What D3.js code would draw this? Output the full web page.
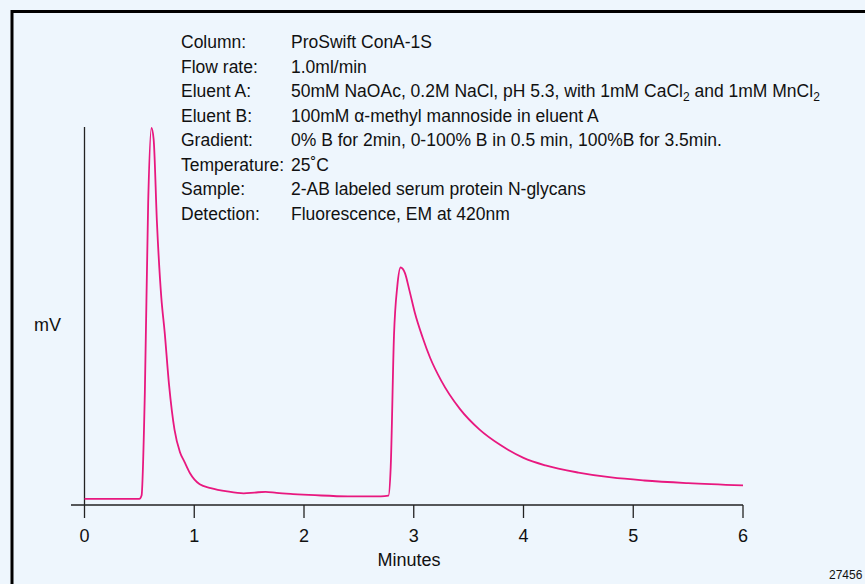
<!DOCTYPE html>
<html><head><meta charset="utf-8">
<script src="https://cdn.jsdelivr.net/npm/d3@7"></script>
<style>body{margin:0;background:#fff}</style>
</head><body><div id="container"></div>
<script>
const width = 865, height = 584;
const fontFamily = "'Liberation Sans', Arial, sans-serif";
const traceColor = "#e8187f";

// trace data (minutes, relative mV)
const times  = [0, 0.5, 0.52, 0.55, 0.58, 0.61, 0.63, 0.66, 0.7, 0.73, 0.77, 0.82, 0.87, 0.91, 0.96, 1.05, 1.15, 1.3, 1.45, 1.55, 1.65, 1.75, 1.9, 2.1, 2.4, 2.7, 2.77, 2.79, 2.82, 2.85, 2.88, 2.92, 2.96, 3.01, 3.08, 3.15, 3.25, 3.42, 3.6, 3.79, 4.0, 4.2, 4.5, 4.8, 5.1, 5.5, 6.0];
const values = [1.6, 1.6, 2.5, 30, 80, 100, 97, 75, 55, 46, 32, 20, 14, 11.5, 8.5, 5.5, 4.5, 3.6, 3.1, 3.3, 3.5, 3.2, 2.9, 2.6, 2.3, 2.3, 2.5, 10, 45, 58, 63, 61.5, 57, 51, 44.5, 39, 33, 25.5, 20, 15.9, 12.5, 10.5, 8.6, 7.3, 6.5, 5.8, 5.2];
const xTicks = [0, 1, 2, 3, 4, 5, 6];
const infoLabels = ["Column:", "Flow rate:", "Eluent A:", "Eluent B:", "Gradient:", "Temperature:", "Sample:", "Detection:"];
const infoValues = ["ProSwift ConA-1S", "1.0ml/min",
  "50mM NaOAc, 0.2M NaCl, pH 5.3, with 1mM CaCl<tspan baseline-shift='-4' font-size='12'>2</tspan> and 1mM MnCl<tspan baseline-shift='-4' font-size='12'>2</tspan>",
  "100mM α-methyl mannoside in eluent A",
  "0% B for 2min, 0-100% B in 0.5 min, 100%B for 3.5min.",
  "25˚C", "2-AB labeled serum protein N-glycans", "Fluorescence, EM at 420nm"];

const svg = d3.select("#container").append("svg")
  .attr("width", width).attr("height", height)
  .style("font-family", fontFamily);

svg.append("rect").attr("width", width).attr("height", height).attr("fill", "#eef6fd");
svg.append("path").attr("d", `M12,${height} V11.5 H${width}`).attr("fill", "none")
  .attr("stroke", "#000").attr("stroke-width", 3);

const x = d3.scaleLinear().domain([0, 6]).range([84.5, 743]);
const y = d3.scaleLinear().domain([0, 100]).range([505, 128]);

// axes
svg.append("line").attr("x1", 71).attr("x2", 743).attr("y1", 505).attr("y2", 505)
  .attr("stroke", "#222").attr("stroke-width", 1.3);
svg.append("line").attr("x1", 84.5).attr("x2", 84.5).attr("y1", 127).attr("y2", 505)
  .attr("stroke", "#222").attr("stroke-width", 1.3);
const tk = svg.append("g").selectAll("g").data(xTicks).join("g")
  .attr("transform", d => `translate(${x(d)},505)`);
tk.append("line").attr("y2", 13).attr("stroke", "#222").attr("stroke-width", 1.3);
tk.append("text").attr("y", 37).attr("text-anchor", "middle").attr("font-size", 18)
  .attr("fill", "#111").text(d => d);

svg.append("text").attr("x", 409).attr("y", 566).attr("text-anchor", "middle")
  .attr("font-size", 18).attr("fill", "#111").text("Minutes");
svg.append("text").attr("x", 34).attr("y", 331).attr("font-size", 18).attr("fill", "#111").text("mV");
svg.append("text").attr("x", 829).attr("y", 579).attr("font-size", 12).attr("fill", "#111").text("27456");

// info block
const info = svg.append("g").attr("font-size", 17.5).attr("fill", "#111");
info.selectAll("text.lab").data(infoLabels).join("text").attr("class", "lab")
  .attr("x", 181).attr("y", (d, i) => 48 + i * 24.5).text(d => d);
info.selectAll("text.val").data(infoValues).join("text").attr("class", "val")
  .attr("x", 291).attr("y", (d, i) => 48 + i * 24.5).html(d => d);

// trace
const pts = times.map((t, i) => [t, values[i]]);
svg.append("path").datum(pts)
  .attr("d", d3.line().x(d => x(d[0])).y(d => y(d[1])).curve(d3.curveMonotoneX))
  .attr("fill", "none").attr("stroke", traceColor).attr("stroke-width", 1.8);
</script></body></html>
